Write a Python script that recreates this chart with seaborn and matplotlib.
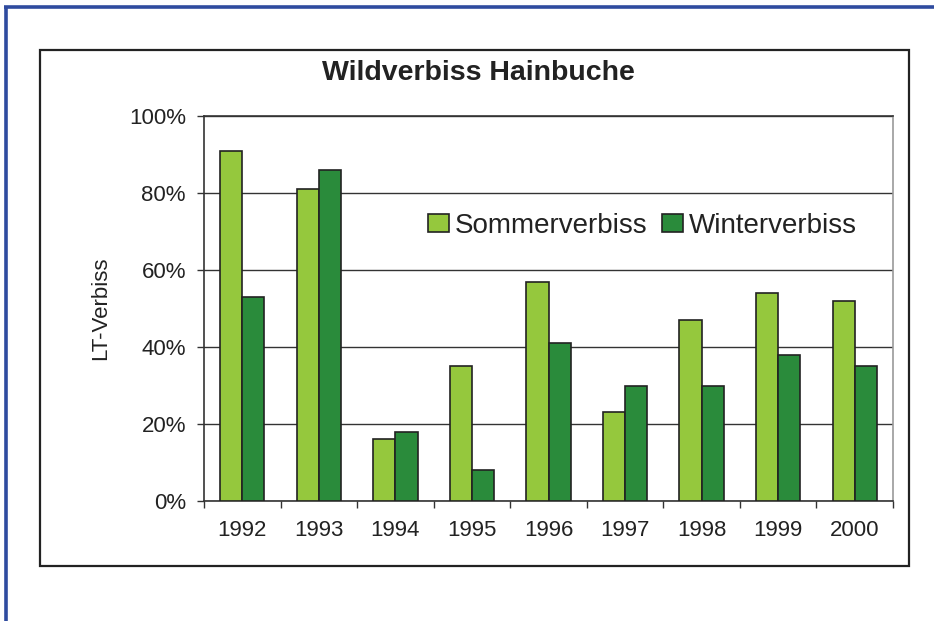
import matplotlib
matplotlib.use("Agg")
import matplotlib.pyplot as plt
import seaborn as sns
import pandas as pd
from matplotlib.patches import Rectangle
from matplotlib.lines import Line2D

years = ["1992", "1993", "1994", "1995", "1996", "1997", "1998", "1999", "2000"]
sommer = [91, 81, 16, 35, 57, 23, 47, 54, 52]
winter = [53, 86, 18, 8, 41, 30, 30, 38, 35]
series = ["Sommerverbiss", "Winterverbiss"]
colors = ["#95C83D", "#2A8B3B"]
yticks = [0, 20, 40, 60, 80, 100]
ytick_labels = ["0%", "20%", "40%", "60%", "80%", "100%"]

df = pd.DataFrame({
    "Jahr": years * 2,
    "Wert": sommer + winter,
    "Serie": [series[0]] * len(years) + [series[1]] * len(years),
})

sns.set_style("white")
plt.rcParams["font.family"] = ["Liberation Sans", "DejaVu Sans"]

W, H = 934, 621
fig = plt.figure(figsize=(W / 100, H / 100), dpi=100)
fig.patch.set_facecolor("white")

# outer chart box
fig.add_artist(Rectangle((40 / W, 1 - 566 / H), (909 - 40) / W, (566 - 50) / H,
                         transform=fig.transFigure, fill=False, edgecolor="#222222", lw=1.6))
# blue frame (left and top)
fig.add_artist(Line2D([5.5 / W, 5.5 / W], [0, 1 - 6.5 / H], transform=fig.transFigure,
                      color="#2F4B9F", lw=2.6, solid_capstyle="butt"))
fig.add_artist(Line2D([4.2 / W, 1], [1 - 6.5 / H, 1 - 6.5 / H], transform=fig.transFigure,
                      color="#2F4B9F", lw=2.6, solid_capstyle="butt"))

ax = fig.add_axes([204 / W, 1 - 501 / H, (893 - 204) / W, (501 - 116) / H])
sns.barplot(data=df, x="Jahr", y="Wert", hue="Serie", palette=colors, width=0.58,
            saturation=1, edgecolor="#222222", linewidth=1.2, ax=ax, legend=True, zorder=3)

ax.set_ylim(0, 100)
ax.set_xlim(-0.5, len(years) - 0.5)
ax.set_yticks(yticks)
ax.set_yticklabels(ytick_labels)
ax.yaxis.grid(True, color="#333333", lw=1.0, zorder=0)
ax.set_axisbelow(True)
ax.set_xlabel("")
ax.set_ylabel("LT-Verbiss", fontsize=16, color="#222222", labelpad=13)

ax.set_xticks(range(len(years)))
ax.set_xticklabels(years)
ax.set_xticks([i - 0.5 for i in range(len(years) + 1)], minor=True)
ax.tick_params(axis="x", which="major", length=0, pad=14, labelsize=16, labelcolor="#222222")
ax.tick_params(axis="x", which="minor", length=5, width=1, color="#333333", direction="out", bottom=True)
ax.tick_params(axis="y", length=5, width=1, color="#333333", direction="out", left=True,
               pad=8, labelsize=16, labelcolor="#222222")

for s in ["left", "bottom", "top"]:
    ax.spines[s].set_color("#333333")
    ax.spines[s].set_linewidth(1.2)
ax.spines["right"].set_color("#999999")
ax.spines["right"].set_linewidth(1.2)

ax.legend_.remove()
handles = [Rectangle((0, 0), 1, 1, facecolor=c, edgecolor="#222222", lw=1.2) for c in colors]
fig.legend(handles, series, loc="center left", bbox_to_anchor=(428 / W, 1 - 226 / H),
           bbox_transform=fig.transFigure, ncol=2, frameon=False, fontsize=20,
           borderpad=0, borderaxespad=0, handlelength=0.75, handleheight=0.6,
           handletextpad=0.2, columnspacing=0.55, labelcolor="#222222")

fig.text(478 / W, 1 - 73 / H, "Wildverbiss Hainbuche", ha="center", va="center",
         fontsize=20.5, fontweight="bold", color="#222222")

fig.savefig("out.png", dpi=100)
